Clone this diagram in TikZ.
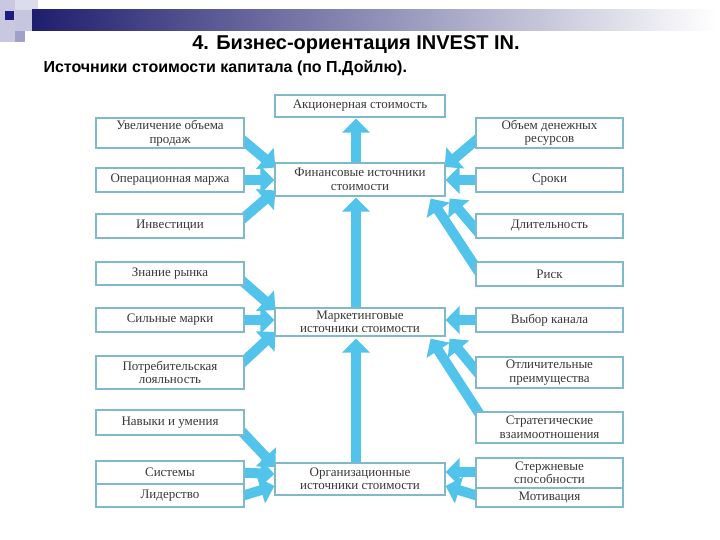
\documentclass[tikz,border=0pt]{standalone}
\usepackage{fontspec}
\setmainfont{Liberation Serif}
\newfontfamily\hdfont{Liberation Sans}
\usetikzlibrary{arrows.meta,calc}
\definecolor{arrowc}{RGB}{82,196,236}
\definecolor{boxline}{RGB}{128,184,204}
\definecolor{navyc}{RGB}{30,30,110}
\definecolor{lavA}{RGB}{200,200,225}
\definecolor{lavB}{RGB}{220,220,235}
\definecolor{lavC}{RGB}{160,160,200}
\definecolor{darkbl}{RGB}{28,28,130}
\pgfdeclarelayer{bg}
\pgfsetlayers{bg,main}
\begin{document}
\begin{tikzpicture}[x=1pt,y=-1pt,
  box/.style={draw=boxline, line width=1.2pt, fill=white, inner sep=0pt, align=center,
    font=\fontsize{13}{13.5}\selectfont, text=black!78},
  lbox/.style={box, minimum width=148pt},
  cbox/.style={box, minimum width=170pt},
  rbox/.style={box, minimum width=147pt},
  barrow/.style={line width=10pt, draw=arrowc, -{Triangle[width=27pt,length=14pt]}}]
\useasboundingbox (0,0) rectangle (720,540);
% slide decoration
\fill[lavA] (0,0) rectangle (15,42);
\fill[lavB] (15,0) rectangle (38,10);
\fill[lavC!60] (15,10) rectangle (32,31);
\fill[darkbl] (5,11) rectangle (14,20);
\fill[lavC] (15,31) rectangle (25,42);
\shade[left color=navyc, right color=white] (32,10) rectangle (715,31);
% titles
\node[font=\hdfont\bfseries\fontsize{20}{24}\selectfont] (title) at (356,45) {4. Бизнес-ориентация INVEST IN.};
\node[anchor=west, font=\hdfont\bfseries\fontsize{16}{19}\selectfont] (sub) at (40,68) {Источники стоимости капитала (по П.Дойлю).};
% center boxes
\node[cbox, minimum height=22pt] (C0) at (360,106) {Акционерная стоимость};
\node[cbox, minimum height=33pt] (C1) at (360,179.5) {Финансовые источники\\стоимости};
\node[cbox, minimum height=28pt] (C2) at (360,322) {Маркетинговые\\источники стоимости};
\node[cbox, minimum height=32pt] (C3) at (360,479) {Организационные\\источники стоимости};
% left boxes
\node[lbox, minimum height=30pt] (L1) at (170,133) {Увеличение объема\\продаж};
\node[lbox, minimum height=24pt] (L2) at (170,180) {Операционная маржа};
\node[lbox, minimum height=24pt] (L3) at (170,226) {Инвестиции};
\node[lbox, minimum height=23pt] (L4) at (170,273.5) {Знание рынка};
\node[lbox, minimum height=24pt] (L5) at (170,320) {Сильные марки};
\node[lbox, minimum height=33pt] (L6) at (170,372.5) {Потребительская\\лояльность};
\node[lbox, minimum height=25pt] (L7) at (170,422.5) {Навыки и умения};
\node[lbox, minimum height=23pt] (L8) at (170,472.5) {Системы};
\node[lbox, minimum height=23pt] (L9) at (170,495.5) {Лидерство};
% right boxes
\node[rbox, minimum height=30pt] (R1) at (549.5,133) {Объем денежных\\ресурсов};
\node[rbox, minimum height=24pt] (R2) at (549.5,180) {Сроки};
\node[rbox, minimum height=24pt] (R3) at (549.5,226) {Длительность};
\node[rbox, minimum height=24pt] (R4) at (549.5,274) {Риск};
\node[rbox, minimum height=24pt] (R5) at (549.5,320) {Выбор канала};
\node[rbox, minimum height=31pt] (R6) at (549.5,372.5) {Отличительные\\преимущества};
\node[rbox, minimum height=31pt] (R7) at (549.5,427.5) {Стратегические\\взаимоотношения};
\node[rbox, minimum height=30pt] (R8) at (549.5,473) {Стержневые\\способности};
\node[rbox, minimum height=19pt] (R9) at (549.5,497.5) {Мотивация};
% arrows
\begin{pgfonlayer}{bg}
\draw[barrow] ($(C1.north)+(-4,2)$) -- ($(C0.south)+(-4,1)$);
\draw[barrow] ($(C2.north)+(-4,2)$) -- ($(C1.south)+(-4,1)$);
\draw[barrow] ($(C3.north)+(-4,2)$) -- ($(C2.south)+(-4,2)$);
\draw[barrow] ($(L1.east)+(-8,2)$) -- ($(C1.west)+(1,-12)$);
\draw[barrow] ($(L2.east)+(-5,0)$) -- ($(C1.west)+(0,0.5)$);
\draw[barrow] ($(L3.east)+(-8,-2)$) -- ($(C1.west)+(1,11)$);
\draw[barrow] ($(L4.east)+(-8,2.5)$) -- ($(C2.west)+(1,-12)$);
\draw[barrow] ($(L5.east)+(-5,0)$) -- ($(C2.west)+(0,-2)$);
\draw[barrow] ($(L6.east)+(-8,-4.5)$) -- ($(C2.west)+(1,10)$);
\draw[barrow] ($(L7.east)+(-8,3.5)$) -- ($(C3.west)+(1,-12)$);
\draw[barrow] ($(L8.east)+(-5,0)$) -- ($(C3.west)+(0,-5)$);
\draw[barrow] ($(L9.east)+(-6,1.5)$) -- ($(C3.west)+(0,7)$);
\draw[barrow] ($(R1.west)+(8,1)$) -- ($(C1.east)+(-1,-12.5)$);
\draw[barrow] ($(R2.west)+(5,0)$) -- ($(C1.east)+(0,0.5)$);
\draw[barrow] ($(R3.west)+(6,10)$) -- ($(C1.south east)+(4,2)$);
\draw[barrow] ($(R4.west)+(10,8)$) -- ($(C1.south east)+(-15,2)$);
\draw[barrow] ($(R5.west)+(5,0)$) -- ($(C2.east)+(0,-2)$);
\draw[barrow] ($(R6.west)+(10,9.5)$) -- ($(C2.south east)+(4,2)$);
\draw[barrow] ($(R7.west)+(8,-7.5)$) -- ($(C2.south east)+(-15,2)$);
\draw[barrow] ($(R8.west)+(5,-1)$) -- ($(C3.east)+(0,-7)$);
\draw[barrow] ($(R9.west)+(6,-0.5)$) -- ($(C3.east)+(0,7)$);
\end{pgfonlayer}
\end{tikzpicture}
\end{document}
